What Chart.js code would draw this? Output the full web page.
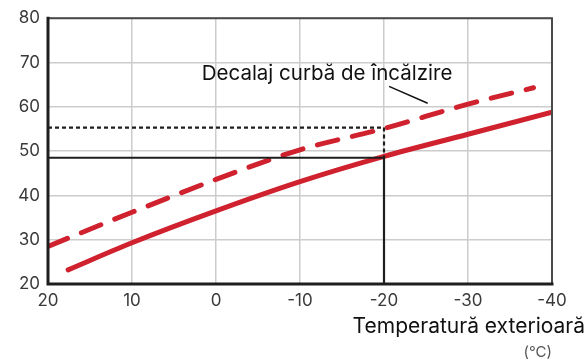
<!DOCTYPE html>
<html>
<head>
<meta charset="utf-8">
<script src="https://cdn.jsdelivr.net/npm/chart.js@4/dist/chart.umd.min.js"></script>
<style>
  html, body { margin: 0; padding: 0; background: #fff; }
  #wrap { width: 586px; height: 361px; }
</style>
</head>
<body>
<div id="wrap"><canvas id="curveChart" width="586" height="361"></canvas></div>
<script>
// Temperatura exterioara (x) si temperatura turului (y)
const outdoorTemps = [17.6, 10, 0, -10, -20, -30, -40];
const heatingCurve = [23.2, 29.3, 36.5, 43.1, 48.8, 53.8, 58.8];

const offsetTemps = [20, 10, 0, -10, -20, -30, -37.8];
const offsetCurve = [28.5, 36.2, 43.6, 50.3, 55.1, 60.6, 64.3];

// Liniile de citire la -20 °C
const readTemps = [20, -20, -20];
const readSolid = [48.5, 48.5, 20];
const readDotted = [55.3, 55.3, 48.5];

// Linia de legatura a etichetei
const leaderTemps = [-20.6, -25.2];
const leaderValues = [64.6, 60.8];

const xTicks = [20, 10, 0, -10, -20, -30, -40];
const yTicks = [20, 30, 40, 50, 60, 70, 80];

const labelText = "Decalaj curbă de încălzire";
const labelPos = { x: 1.7, y: 67.5 };
const axisTitle = "Temperatură exterioară";
const axisUnit = "(°C)";

const red = "#d0212e";
const toPoints = (xs, ys) => xs.map((x, i) => ({ x: x, y: ys[i] }));

// Chenar, eticheta si titlul axei
const extras = {
  id: "extras",
  afterDatasetsDraw(chart) {
    const { ctx, chartArea: a, scales } = chart;
    ctx.save();
    // chenarul graficului
    ctx.lineCap = "square";
    ctx.strokeStyle = "#4a4a4a";
    ctx.lineWidth = 2;
    ctx.beginPath();
    ctx.moveTo(a.left, a.top);
    ctx.lineTo(a.right, a.top);
    ctx.lineTo(a.right, a.bottom);
    ctx.stroke();
    ctx.strokeStyle = "#1e1e1e";
    ctx.lineWidth = 3;
    ctx.beginPath();
    ctx.moveTo(a.left, a.top);
    ctx.lineTo(a.left, a.bottom);
    ctx.lineTo(a.right, a.bottom);
    ctx.stroke();

    // eticheta curbei decalate
    ctx.fillStyle = "#111";
    ctx.font = "20.5px Inter";
    ctx.textAlign = "left";
    ctx.textBaseline = "middle";
    ctx.fillText(labelText, scales.x.getPixelForValue(labelPos.x), scales.y.getPixelForValue(labelPos.y));

    // titlul axei x
    ctx.textAlign = "right";
    ctx.font = "21px Inter";
    ctx.fillText(axisTitle, 585, 327);
    ctx.fillStyle = "#555";
    ctx.font = "15px Inter";
    ctx.fillText(axisUnit, 552, 352);
    ctx.restore();
  },
};

const config = {
  type: "line",
  data: {
    datasets: [
      {
        data: toPoints(readTemps, readSolid),
        borderColor: "#1e1e1e",
        borderWidth: 2.2,
        pointRadius: 0,
        tension: 0,
      },
      {
        data: toPoints(readTemps, readDotted),
        borderColor: "#1e1e1e",
        borderWidth: 2.2,
        borderDash: [4, 3],
        pointRadius: 0,
        tension: 0,
      },
      {
        data: toPoints(leaderTemps, leaderValues),
        borderColor: "#111",
        borderWidth: 1.5,
        pointRadius: 0,
        tension: 0,
      },
      {
        data: toPoints(offsetTemps, offsetCurve),
        borderColor: red,
        borderWidth: 5,
        borderDash: [21, 15],
        borderCapStyle: "round",
        pointRadius: 0,
        cubicInterpolationMode: "monotone",
      },
      {
        data: toPoints(outdoorTemps, heatingCurve),
        borderColor: red,
        borderWidth: 5,
        borderCapStyle: "round",
        pointRadius: 0,
        cubicInterpolationMode: "monotone",
      },
    ],
  },
  options: {
    responsive: false,
    animation: false,
    events: [],
    layout: { padding: { top: 13, right: 34, left: 0, bottom: 0 } },
    plugins: { legend: { display: false }, tooltip: { enabled: false } },
    scales: {
      x: {
        type: "linear",
        reverse: true,
        min: -40,
        max: 20,
        afterBuildTicks: (s) => { s.ticks = xTicks.map((v) => ({ value: v })); },
        afterFit: (s) => { s.height = 77; },
        grid: { color: "#cccccc", lineWidth: 1.5, drawTicks: false },
        border: { display: false },
        ticks: {
          color: "#3a3a3a",
          font: { family: "Inter", size: 17 },
          padding: 7,
          maxRotation: 0,
        },
      },
      y: {
        min: 20,
        max: 80,
        afterBuildTicks: (s) => { s.ticks = yTicks.map((v) => ({ value: v })); },
        afterFit: (s) => { s.width = 48; },
        grid: { color: "#cccccc", lineWidth: 1.5, drawTicks: false },
        border: { display: false },
        ticks: {
          color: "#3a3a3a",
          font: { family: "Inter", size: 17 },
          padding: 8,
        },
      },
    },
  },
  plugins: [extras],
};

const curveChart = new Chart(document.getElementById("curveChart"), config);
</script>
</body>
</html>
